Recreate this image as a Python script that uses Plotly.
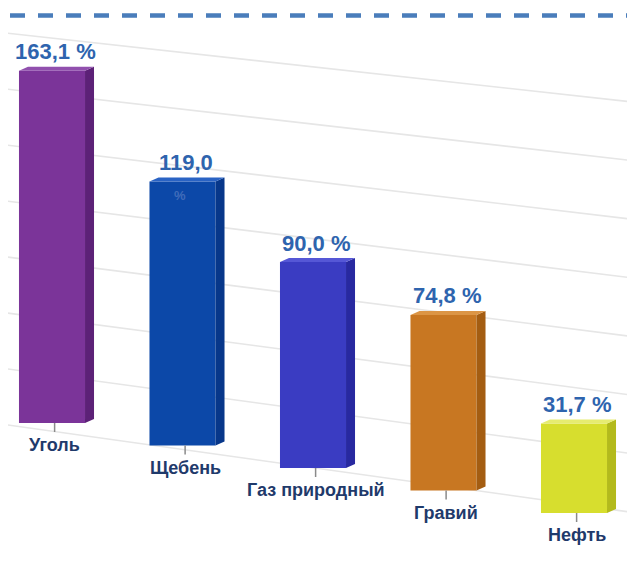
import plotly.graph_objects as go

# ---- data ----
categories = ["Уголь", "Щебень", "Газ природный", "Гравий", "Нефть"]
values = [163.1, 119.0, 90.0, 74.8, 31.7]
value_labels = ["163,1 %", "119,0", "90,0 %", "74,8 %", "31,7 %"]
grid_values = [0, 25, 50, 75, 100, 125, 150, 175]

# ---- style ----
front_colors = ["#7b3499", "#0c48a8", "#3a3cc2", "#c87722", "#d7de2e"]
side_colors = ["#5c2177", "#07378a", "#2829a0", "#a45d12", "#b3ba1c"]
top_colors = ["#9150ae", "#2a63c4", "#5557d6", "#dc9545", "#e6ec70"]
VALUE_COLOR = "#2e64ae"
CAT_COLOR = "#1f3a6b"
FONT = "Liberation Sans, Arial, sans-serif"

WIN_W, WIN_H = 635, 565
BODY = 8                            # default page margin around the plot
W, H = WIN_W - BODY, WIN_H - BODY
PX0, PXSTEP = 52.0, 130.5          # screen x of category 0, pixels per category
S = 2.0                            # pixels per unit (y)
Z0 = 397.0                         # screen y of value 0 for the first bar
TILT = 11.25                       # floor drop per category (units)
FLOOR = 13.0                       # floor below zero (units)
BAR_W = 0.506
SIDE_W = 0.069
DEPTH = 2.0

x_range = [(BODY - PX0) / PXSTEP, (WIN_W - PX0) / PXSTEP]
y_range = [(Z0 - WIN_H) / S, (Z0 - BODY) / S]

fig = go.Figure()

# gridlines on the back wall (perspective), drawn below the bars
def grid_pixel(g, xpx):
    slope = 0.14 - 0.03 * g / 175.0
    return 468 - 2.291 * g + slope * (xpx - 315)

shapes = []
for g in grid_values:
    xa, xb = (0 - PX0) / PXSTEP, (628 - PX0) / PXSTEP
    ya = (Z0 - grid_pixel(g, PX0 + PXSTEP * xa)) / S
    yb = (Z0 - grid_pixel(g, PX0 + PXSTEP * xb)) / S
    shapes.append(dict(type="line", xref="x", yref="y", x0=xa, x1=xb, y0=ya, y1=yb,
                       layer="below", line=dict(color="#e6e6e6", width=1.6)))

idx = list(range(len(categories)))
tops = [v - TILT * i for i, v in zip(idx, values)]
bases = [-TILT * i - FLOOR for i in idx]

# front faces
fig.add_trace(go.Bar(
    x=idx, y=[t - b for t, b in zip(tops, bases)], base=bases,
    width=BAR_W, marker=dict(color=front_colors, line=dict(width=0)),
    hoverinfo="skip", showlegend=False))

# side and top faces
for i in idx:
    xr = i + BAR_W / 2
    xl = i - BAR_W / 2
    t, b = tops[i], bases[i]
    fig.add_trace(go.Scatter(
        x=[xr, xr + SIDE_W, xr + SIDE_W, xr, xr],
        y=[b, b + DEPTH, t + DEPTH, t, b],
        fill="toself", fillcolor=side_colors[i], mode="lines",
        line=dict(width=0, color=side_colors[i]),
        hoverinfo="skip", showlegend=False))
    fig.add_trace(go.Scatter(
        x=[xl, xr, xr + SIDE_W, xl + SIDE_W, xl],
        y=[t, t, t + DEPTH, t + DEPTH, t],
        fill="toself", fillcolor=top_colors[i], mode="lines",
        line=dict(width=0, color=top_colors[i]),
        hoverinfo="skip", showlegend=False))
    # tick mark under bar
    fig.add_trace(go.Scatter(
        x=[i + 0.02, i + 0.02], y=[b, b - 4.5], mode="lines",
        line=dict(color="#8a8a8a", width=1.5),
        hoverinfo="skip", showlegend=False))

annotations = []
for i in idx:
    annotations.append(dict(
        x=i + 0.03, y=tops[i] + 9.5, xref="x", yref="y",
        text=value_labels[i], showarrow=False, xanchor="center", yanchor="middle",
        font=dict(family=FONT, size=22, color=VALUE_COLOR, weight="bold")))
    annotations.append(dict(
        x=i + 0.02, y=bases[i] - 11, xref="x", yref="y",
        text=categories[i], showarrow=False, xanchor="center", yanchor="middle",
        font=dict(family=FONT, size=18, color=CAT_COLOR, weight="bold")))

# faint "%" of the second label
annotations.append(dict(
    x=1 - 0.02, y=tops[1] - 7, xref="x", yref="y", text="%", showarrow=False,
    font=dict(family=FONT, size=13, color="rgba(110,140,200,0.55)", weight="bold")))

dash_y = 15.5
shapes.append(dict(type="line", xref="paper", yref="paper",
                   x0=(10 - BODY) / W, x1=1,
                   y0=1 - (dash_y - BODY) / H, y1=1 - (dash_y - BODY) / H,
                   line=dict(color="#4a7dbb", width=4.5, dash="15px,13px")))

fig.update_layout(
    width=W, height=H,
    margin=dict(l=0, r=0, t=0, b=0),
    paper_bgcolor="white", plot_bgcolor="white",
    barmode="overlay",
    xaxis=dict(range=x_range, visible=False, fixedrange=True),
    yaxis=dict(range=y_range, visible=False, fixedrange=True),
    annotations=annotations,
    shapes=shapes,
)

fig.write_html("out.html")
